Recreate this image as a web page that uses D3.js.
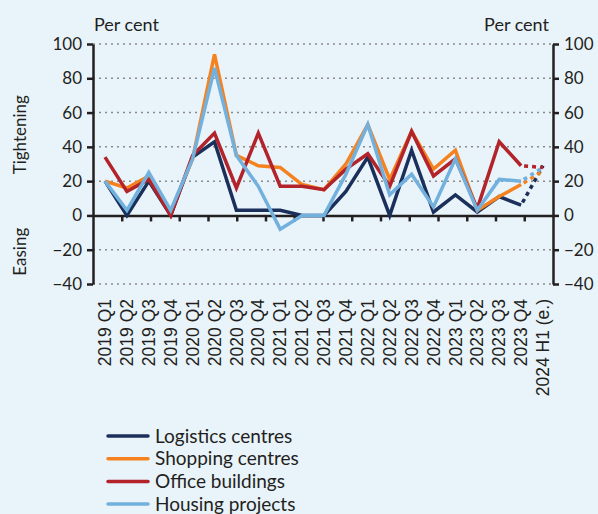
<!DOCTYPE html>
<html>
<head>
<meta charset="utf-8">
<script src="https://cdn.jsdelivr.net/npm/d3@7"></script>
<style>
  body { margin: 0; background: #e9f3fa; }
  svg { display: block; }
  text { fill: #231f20; }
</style>
</head>
<body>
<div id="chart"></div>
<script>
// categories and series (per cent)
const categories = ["2019 Q1", "2019 Q2", "2019 Q3", "2019 Q4", "2020 Q1", "2020 Q2", "2020 Q3", "2020 Q4",
  "2021 Q1", "2021 Q2", "2021 Q3", "2021 Q4", "2022 Q1", "2022 Q2", "2022 Q3", "2022 Q4",
  "2023 Q1", "2023 Q2", "2023 Q3", "2023 Q4", "2024 H1 (e.)"];
const logistics = [20, 0, 20, 0, 34, 43, 3, 3, 3, 0, 0, 14, 34, 0, 38, 2, 12, 2, 11, 6, 29];
const shopping = [20, 16, 23, 2, 33, 94, 35, 29, 28, 18, 15, 30, 53, 21, 49, 27, 38, 3, 11, 18, 26];
const office = [34, 14, 21, 0, 35, 48, 16, 48, 17, 17, 15, 27, 36, 17, 49, 23, 33, 4, 43, 29, 28];
const housing = [20, 3, 25, 3, 33, 86, 35, 17, -8, 0, 0, 24, 53, 12, 24, 5, 33, 3, 21, 20, 28];
const seriesNames = ["Logistics centres", "Shopping centres", "Office buildings", "Housing projects"];
const yTicks = [-40, -20, 0, 20, 40, 60, 80, 100];

const W = 598, H = 514;
const LEFT = 93, RIGHT = 553, TOP = 44, BOTTOM = 284;
const FONT = "Lato, 'Open Sans', sans-serif";

const series = [
  { name: seriesNames[0], values: logistics, color: "#1b2f5b" },
  { name: seriesNames[1], values: shopping, color: "#f5821f" },
  { name: seriesNames[2], values: office, color: "#b2232a" },
  { name: seriesNames[3], values: housing, color: "#72b1de" }
];

const svg = d3.select("#chart").append("svg")
  .attr("width", W)
  .attr("height", H);

svg.append("rect").attr("width", W).attr("height", H).attr("fill", "#e9f3fa");

const x = d3.scalePoint()
  .domain(categories)
  .range([105, 543]);

const y = d3.scaleLinear()
  .domain([-40, 100])
  .range([BOTTOM, TOP]);

// tick marks below the zero line (evenly spaced, not per category)
const xTickScale = d3.scaleLinear().domain([0, 16]).range([LEFT, RIGHT]);

// grid lines
svg.append("g")
  .selectAll("line")
  .data(yTicks.filter(d => d !== 0))
  .join("line")
  .attr("x1", LEFT)
  .attr("x2", RIGHT)
  .attr("y1", d => y(d))
  .attr("y2", d => y(d))
  .attr("stroke", "#8a8a8a")
  .attr("stroke-width", 1.5)
  .attr("stroke-dasharray", "2,4");

// left axis
const yAxisLeft = svg.append("g")
  .attr("transform", `translate(${LEFT},0)`)
  .call(d3.axisLeft(y).tickValues(yTicks).tickSize(6).tickPadding(5).tickSizeOuter(0));

// right axis
const yAxisRight = svg.append("g")
  .attr("transform", `translate(${RIGHT},0)`)
  .call(d3.axisRight(y).tickValues(yTicks).tickSize(6).tickPadding(5).tickSizeOuter(0));

[yAxisLeft, yAxisRight].forEach(g => {
  g.select(".domain").attr("stroke", "#231f20").attr("stroke-width", 2.5);
  g.selectAll(".tick line").attr("stroke", "#231f20").attr("stroke-width", 2.5);
  g.selectAll(".tick text")
    .attr("font-family", FONT)
    .attr("font-size", 17)
    .attr("fill", "#231f20");
});

// zero line with ticks
const zeroAxis = svg.append("g")
  .attr("transform", `translate(0,${y(0)})`)
  .call(d3.axisBottom(xTickScale).tickValues(d3.range(1, 16)).tickSize(6).tickFormat("").tickSizeOuter(0));
zeroAxis.select(".domain").attr("stroke", "#231f20").attr("stroke-width", 2.5);
zeroAxis.selectAll(".tick line").attr("stroke", "#231f20").attr("stroke-width", 2.5);

// category labels
svg.append("g")
  .selectAll("text")
  .data(categories)
  .join("text")
  .attr("transform", d => `translate(${x(d)},299) rotate(-90)`)
  .attr("text-anchor", "end")
  .attr("dy", "0.35em")
  .attr("font-family", "'Liberation Sans', Arial, sans-serif")
  .attr("font-size", 17.5)
  .text(d => d);

// lines
const line = d3.line()
  .x((d, i) => x(categories[i]))
  .y(d => y(d));

const last = categories.length - 1;

series.forEach(s => {
  // solid part up to 2023 Q4
  svg.append("path")
    .datum(s.values.slice(0, last))
    .attr("fill", "none")
    .attr("stroke", s.color)
    .attr("stroke-width", 3.5)
    .attr("stroke-linejoin", "miter")
    .attr("d", line);

  // dotted forecast segment
  const seg = d3.line()
    .x(d => x(categories[d.i]))
    .y(d => y(d.v));
  svg.append("path")
    .datum([{ i: last - 1, v: s.values[last - 1] }, { i: last, v: s.values[last] }])
    .attr("fill", "none")
    .attr("stroke", s.color)
    .attr("stroke-width", 3.5)
    .attr("stroke-dasharray", "4,4")
    .attr("stroke-dashoffset", -3)
    .attr("d", seg);
});

// axis titles
svg.append("text")
  .attr("x", 94).attr("y", 31)
  .attr("font-family", FONT).attr("font-size", 18)
  .text("Per cent");

svg.append("text")
  .attr("x", 549).attr("y", 31)
  .attr("text-anchor", "end")
  .attr("font-family", FONT).attr("font-size", 18)
  .text("Per cent");

svg.append("text")
  .attr("transform", `translate(26,${(y(100) + y(0)) / 2 + 5}) rotate(-90)`)
  .attr("text-anchor", "middle")
  .attr("font-family", FONT).attr("font-size", 17)
  .text("Tightening");

svg.append("text")
  .attr("transform", `translate(26,${(y(0) + y(-40)) / 2 + 2}) rotate(-90)`)
  .attr("text-anchor", "middle")
  .attr("font-family", FONT).attr("font-size", 17)
  .text("Easing");

// legend
const legend = svg.append("g").attr("transform", "translate(108,436)");
const legendRow = legend.selectAll("g")
  .data(series)
  .join("g")
  .attr("transform", (d, i) => `translate(0,${i * 22.7})`);

legendRow.append("line")
  .attr("x1", 0).attr("x2", 40)
  .attr("stroke", d => d.color)
  .attr("stroke-width", 3.5)
  .attr("stroke-linecap", "round");

legendRow.append("text")
  .attr("x", 47)
  .attr("dy", "0.35em")
  .attr("font-family", FONT)
  .attr("font-size", 19)
  .text(d => d.name);
</script>
</body>
</html>
